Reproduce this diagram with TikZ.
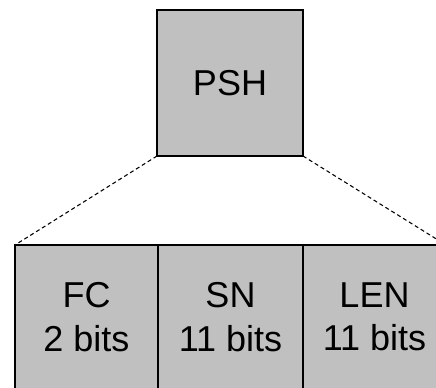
\documentclass[tikz,border=0pt]{standalone}
\usepackage{fontspec}
\setmainfont{Liberation Sans}
\begin{document}
\begin{tikzpicture}[x=0.75pt,y=-0.75pt,
  field/.style={draw=black, line width=1.5pt, fill={rgb,255:red,192;green,192;blue,192},
    rectangle, inner sep=0pt, outer sep=0pt, align=center,
    font=\fontsize{27}{32.5}\selectfont},
  zoomline/.style={draw=black, line width=0.8pt, dash pattern=on 3pt off 2.2pt}]
\useasboundingbox (0,0) rectangle (436,388);
\clip (0,0) rectangle (436,388);
\node[field, minimum width=146*0.75pt, minimum height=146*0.75pt] (psh) at (230,83) {PSH};
\node[field, minimum width=143*0.75pt, minimum height=144*0.75pt] (fc) at (86.5,317) {FC\\2 bits};
\node[field, minimum width=145*0.75pt, minimum height=144*0.75pt] (sn) at (230.5,317) {SN\\11 bits};
\node[field, minimum width=143*0.75pt, minimum height=144*0.75pt] (len) at (374.5,317) {LEN\\11 bits};
\draw[zoomline] (psh.south west) -- (fc.north west);
\draw[zoomline] (psh.south east) -- (len.north east);
\end{tikzpicture}
\end{document}
